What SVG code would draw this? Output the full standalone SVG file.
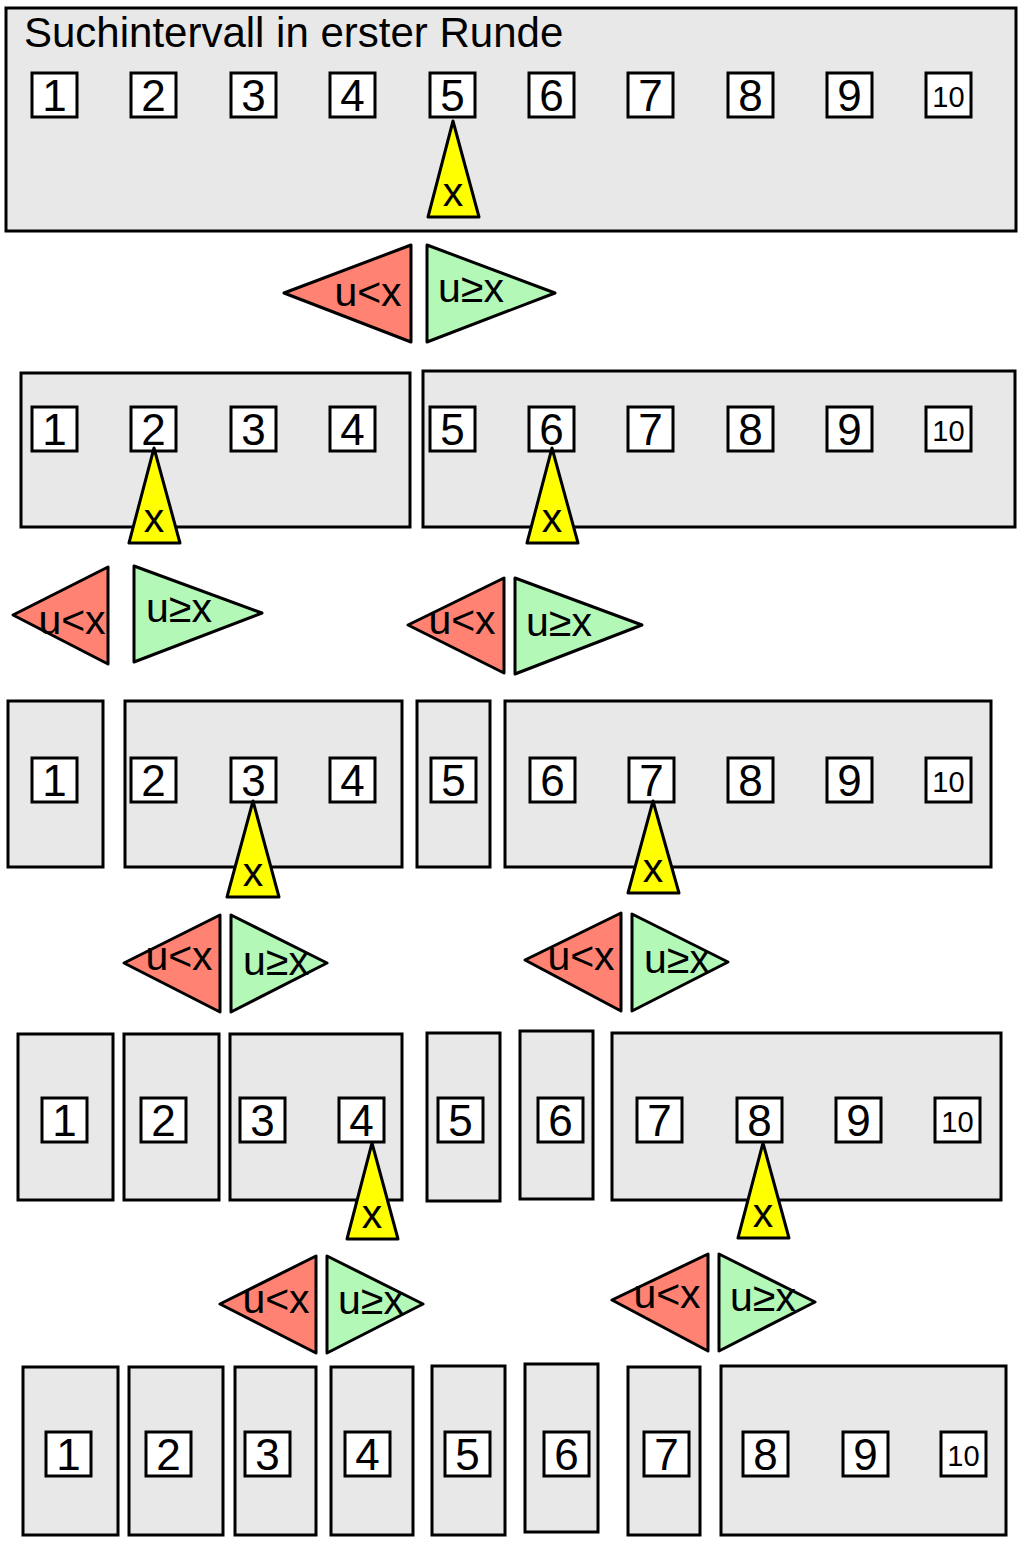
<svg xmlns="http://www.w3.org/2000/svg" width="1024" height="1542" viewBox="0 0 1024 1542">
<style>
.iv{fill:#e8e8e8;stroke:#000;stroke-width:3}
.nb{fill:#fff;stroke:#000;stroke-width:3}
.n{font-family:"Liberation Sans",Arial,sans-serif;font-size:44px;text-anchor:middle;fill:#000}
.n10{font-family:"Liberation Sans",Arial,sans-serif;font-size:29px;text-anchor:middle;fill:#000}
.t{font-family:"Liberation Sans",Arial,sans-serif;font-size:42px;fill:#000}
.pv{fill:#ffff00;stroke:#000;stroke-width:3;stroke-linejoin:round}
.lt{fill:#ff8272;stroke:#000;stroke-width:3;stroke-linejoin:round}
.ge{fill:#b4f8b8;stroke:#000;stroke-width:3;stroke-linejoin:round}
.l{font-family:"Liberation Sans",Arial,sans-serif;font-size:41px;text-anchor:middle;fill:#000}
</style>

<!-- Row 1 -->
<g id="round1">
<rect class="iv" x="6" y="8" width="1010" height="223"/>
<text class="t" x="24" y="47">Suchintervall in erster Runde</text>
<rect class="nb" x="32" y="73" width="45" height="44"/><text class="n" x="54.5" y="111">1</text>
<rect class="nb" x="131" y="73" width="45" height="44"/><text class="n" x="153.5" y="111">2</text>
<rect class="nb" x="231" y="73" width="45" height="44"/><text class="n" x="253.5" y="111">3</text>
<rect class="nb" x="330" y="73" width="45" height="44"/><text class="n" x="352.5" y="111">4</text>
<rect class="nb" x="430" y="73" width="45" height="44"/><text class="n" x="452.5" y="111">5</text>
<rect class="nb" x="529" y="73" width="45" height="44"/><text class="n" x="551.5" y="111">6</text>
<rect class="nb" x="628" y="73" width="45" height="44"/><text class="n" x="650.5" y="111">7</text>
<rect class="nb" x="728" y="73" width="45" height="44"/><text class="n" x="750.5" y="111">8</text>
<rect class="nb" x="827" y="73" width="45" height="44"/><text class="n" x="849.5" y="111">9</text>
<rect class="nb" x="926" y="73" width="45" height="44"/><text class="n10" x="948.5" y="107">10</text>
</g>
<g id="pivot1"><polygon class="pv" points="453,121 428,217 479,217"/><text class="l" x="453" y="206">x</text></g>
<g id="split1">
<polygon class="lt" points="284,293 411,245 411,342"/><text class="l" x="368" y="306">u&lt;x</text>
<polygon class="ge" points="427,245 427,342 555,293"/><text class="l" x="471" y="302">u≥x</text>
</g>

<!-- Row 2 -->
<g id="round2-left">
<rect class="iv" x="21" y="373" width="389" height="154"/>
<rect class="nb" x="32" y="407" width="45" height="44"/><text class="n" x="54.5" y="445">1</text>
<rect class="nb" x="131" y="407" width="45" height="44"/><text class="n" x="153.5" y="445">2</text>
<rect class="nb" x="231" y="407" width="45" height="44"/><text class="n" x="253.5" y="445">3</text>
<rect class="nb" x="330" y="407" width="45" height="44"/><text class="n" x="352.5" y="445">4</text>
</g>
<g id="round2-right">
<rect class="iv" x="423" y="371" width="592" height="156"/>
<rect class="nb" x="430" y="407" width="45" height="44"/><text class="n" x="452.5" y="445">5</text>
<rect class="nb" x="529" y="407" width="45" height="44"/><text class="n" x="551.5" y="445">6</text>
<rect class="nb" x="628" y="407" width="45" height="44"/><text class="n" x="650.5" y="445">7</text>
<rect class="nb" x="728" y="407" width="45" height="44"/><text class="n" x="750.5" y="445">8</text>
<rect class="nb" x="827" y="407" width="45" height="44"/><text class="n" x="849.5" y="445">9</text>
<rect class="nb" x="926" y="407" width="45" height="44"/><text class="n10" x="948.5" y="441">10</text>
</g>
<g id="pivot2a"><polygon class="pv" points="154,448 129,543 180,543"/><text class="l" x="154" y="532">x</text></g>
<g id="pivot2b"><polygon class="pv" points="552,448 527,543 578,543"/><text class="l" x="552" y="532">x</text></g>
<g id="split2a">
<polygon class="lt" points="13,615 108,567 108,664"/><text class="l" x="72" y="634">u&lt;x</text>
<polygon class="ge" points="134,566 134,662 262,613"/><text class="l" x="179" y="622">u≥x</text>
</g>
<g id="split2b">
<polygon class="lt" points="408,625 504,578 504,673"/><text class="l" x="462" y="634">u&lt;x</text>
<polygon class="ge" points="515,578 515,674 642,625"/><text class="l" x="559" y="636">u≥x</text>
</g>

<!-- Row 3 -->
<g id="round3-a">
<rect class="iv" x="8" y="701" width="95" height="166"/>
<rect class="nb" x="32" y="758" width="45" height="44"/><text class="n" x="54.5" y="796">1</text>
</g>
<g id="round3-b">
<rect class="iv" x="125" y="701" width="277" height="166"/>
<rect class="nb" x="131" y="758" width="45" height="44"/><text class="n" x="153.5" y="796">2</text>
<rect class="nb" x="231" y="758" width="45" height="44"/><text class="n" x="253.5" y="796">3</text>
<rect class="nb" x="330" y="758" width="45" height="44"/><text class="n" x="352.5" y="796">4</text>
</g>
<g id="round3-c">
<rect class="iv" x="417" y="701" width="73" height="166"/>
<rect class="nb" x="431" y="758" width="45" height="44"/><text class="n" x="453.5" y="796">5</text>
</g>
<g id="round3-d">
<rect class="iv" x="505" y="701" width="486" height="166"/>
<rect class="nb" x="530" y="758" width="45" height="44"/><text class="n" x="552.5" y="796">6</text>
<rect class="nb" x="629" y="758" width="45" height="44"/><text class="n" x="651.5" y="796">7</text>
<rect class="nb" x="728" y="758" width="45" height="44"/><text class="n" x="750.5" y="796">8</text>
<rect class="nb" x="827" y="758" width="45" height="44"/><text class="n" x="849.5" y="796">9</text>
<rect class="nb" x="926" y="758" width="45" height="44"/><text class="n10" x="948.5" y="792">10</text>
</g>
<g id="pivot3a"><polygon class="pv" points="253,801 227,897 279,897"/><text class="l" x="253" y="886">x</text></g>
<g id="pivot3b"><polygon class="pv" points="653,801 628,893 679,893"/><text class="l" x="653" y="882">x</text></g>
<g id="split3a">
<polygon class="lt" points="124,963 220,915 220,1012"/><text class="l" x="179" y="970">u&lt;x</text>
<polygon class="ge" points="231,915 231,1012 327,963"/><text class="l" x="276" y="975">u≥x</text>
</g>
<g id="split3b">
<polygon class="lt" points="525,960 621,913 621,1011"/><text class="l" x="581" y="970">u&lt;x</text>
<polygon class="ge" points="632,914 632,1011 728,962"/><text class="l" x="677" y="973">u≥x</text>
</g>

<!-- Row 4 -->
<g id="round4-a">
<rect class="iv" x="18" y="1034" width="95" height="166"/>
<rect class="nb" x="42" y="1098" width="45" height="44"/><text class="n" x="64.5" y="1136">1</text>
</g>
<g id="round4-b">
<rect class="iv" x="124" y="1034" width="95" height="166"/>
<rect class="nb" x="141" y="1098" width="45" height="44"/><text class="n" x="163.5" y="1136">2</text>
</g>
<g id="round4-c">
<rect class="iv" x="230" y="1034" width="172" height="166"/>
<rect class="nb" x="240" y="1098" width="45" height="44"/><text class="n" x="262.5" y="1136">3</text>
<rect class="nb" x="339" y="1098" width="45" height="44"/><text class="n" x="361.5" y="1136">4</text>
</g>
<g id="round4-d">
<rect class="iv" x="427" y="1033" width="73" height="168"/>
<rect class="nb" x="438" y="1098" width="45" height="44"/><text class="n" x="460.5" y="1136">5</text>
</g>
<g id="round4-e">
<rect class="iv" x="520" y="1031" width="73" height="168"/>
<rect class="nb" x="538" y="1098" width="45" height="44"/><text class="n" x="560.5" y="1136">6</text>
</g>
<g id="round4-f">
<rect class="iv" x="612" y="1033" width="389" height="167"/>
<rect class="nb" x="637" y="1098" width="45" height="44"/><text class="n" x="659.5" y="1136">7</text>
<rect class="nb" x="737" y="1098" width="45" height="44"/><text class="n" x="759.5" y="1136">8</text>
<rect class="nb" x="836" y="1098" width="45" height="44"/><text class="n" x="858.5" y="1136">9</text>
<rect class="nb" x="935" y="1098" width="45" height="44"/><text class="n10" x="957.5" y="1132">10</text>
</g>
<g id="pivot4a"><polygon class="pv" points="372,1143 347,1239 398,1239"/><text class="l" x="372" y="1228">x</text></g>
<g id="pivot4b"><polygon class="pv" points="763,1143 738,1238 789,1238"/><text class="l" x="763" y="1227">x</text></g>
<g id="split4a">
<polygon class="lt" points="220,1304 316,1256 316,1353"/><text class="l" x="276" y="1313">u&lt;x</text>
<polygon class="ge" points="327,1256 327,1353 423,1304"/><text class="l" x="371" y="1314">u≥x</text>
</g>
<g id="split4b">
<polygon class="lt" points="612,1300 708,1254 708,1351"/><text class="l" x="667" y="1308">u&lt;x</text>
<polygon class="ge" points="719,1254 719,1351 815,1302"/><text class="l" x="763" y="1311">u≥x</text>
</g>

<!-- Row 5 -->
<g id="round5-1"><rect class="iv" x="23" y="1367" width="95" height="168"/><rect class="nb" x="46" y="1432" width="45" height="44"/><text class="n" x="68.5" y="1470">1</text></g>
<g id="round5-2"><rect class="iv" x="129" y="1367" width="94" height="168"/><rect class="nb" x="146" y="1432" width="45" height="44"/><text class="n" x="168.5" y="1470">2</text></g>
<g id="round5-3"><rect class="iv" x="235" y="1367" width="81" height="168"/><rect class="nb" x="245" y="1432" width="45" height="44"/><text class="n" x="267.5" y="1470">3</text></g>
<g id="round5-4"><rect class="iv" x="331" y="1367" width="82" height="168"/><rect class="nb" x="345" y="1432" width="45" height="44"/><text class="n" x="367.5" y="1470">4</text></g>
<g id="round5-5"><rect class="iv" x="432" y="1366" width="73" height="169"/><rect class="nb" x="445" y="1432" width="45" height="44"/><text class="n" x="467.5" y="1470">5</text></g>
<g id="round5-6"><rect class="iv" x="525" y="1364" width="73" height="168"/><rect class="nb" x="544" y="1432" width="45" height="44"/><text class="n" x="566.5" y="1470">6</text></g>
<g id="round5-7"><rect class="iv" x="628" y="1367" width="72" height="168"/><rect class="nb" x="644" y="1432" width="45" height="44"/><text class="n" x="666.5" y="1470">7</text></g>
<g id="round5-8"><rect class="iv" x="721" y="1366" width="285" height="169"/>
<rect class="nb" x="743" y="1432" width="45" height="44"/><text class="n" x="765.5" y="1470">8</text>
<rect class="nb" x="843" y="1432" width="45" height="44"/><text class="n" x="865.5" y="1470">9</text>
<rect class="nb" x="941" y="1432" width="45" height="44"/><text class="n10" x="963.5" y="1466">10</text>
</g>
<g id="connectors"/>
</svg>
